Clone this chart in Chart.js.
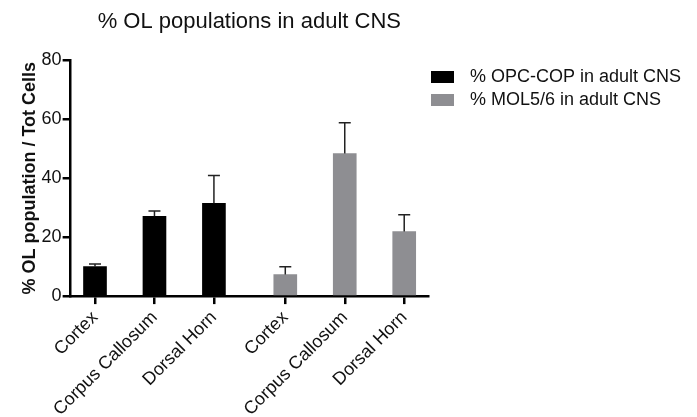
<!DOCTYPE html>
<html>
<head>
<meta charset="utf-8">
<script src="https://cdn.jsdelivr.net/npm/chart.js@4/dist/chart.umd.min.js"></script>
<style>
html,body{margin:0;padding:0;background:#fff;}
#wrap{width:697px;height:417px;position:relative;}
</style>
</head>
<body>
<div id="wrap"><canvas id="c" width="697" height="417"></canvas></div>
<script>
const categories = ['Cortex', 'Corpus Callosum', 'Dorsal Horn', 'Cortex', 'Corpus Callosum', 'Dorsal Horn'];
const positions = [0, 1, 2, 3.2, 4.2, 5.2];
const opcValues = [10.0, 27.1, 31.5];
const opcErrors = [0.9, 1.8, 9.4];
const molValues = [7.3, 48.4, 21.9];
const molErrors = [2.7, 10.4, 5.7];
const yTicks = [0, 20, 40, 60, 80];
const seriesNames = ['% OPC-COP in adult CNS', '% MOL5/6 in adult CNS'];
const seriesColors = ['#000000', '#8e8e92'];

const FONT = "'Liberation Sans', Arial, sans-serif";

const errorBars = {
  id: 'errorBars',
  afterDatasetsDraw(chart) {
    const ctx = chart.ctx;
    const ys = chart.scales.y;
    chart.data.datasets.forEach((ds, di) => {
      const meta = chart.getDatasetMeta(di);
      meta.data.forEach((bar, i) => {
        const v = ds.data[i].y;
        const e = ds.errors[i];
        const yTop = ys.getPixelForValue(v + e);
        const yBar = ys.getPixelForValue(v);
        ctx.save();
        ctx.strokeStyle = '#222';
        ctx.lineWidth = 1.5;
        ctx.beginPath();
        ctx.moveTo(bar.x, yBar);
        ctx.lineTo(bar.x, yTop);
        ctx.moveTo(bar.x - 6, yTop);
        ctx.lineTo(bar.x + 6, yTop);
        ctx.stroke();
        ctx.restore();
      });
    });
  }
};

const customLegend = {
  id: 'customLegend',
  afterDraw(chart) {
    const ctx = chart.ctx;
    ctx.save();
    ctx.font = '18px ' + FONT;
    ctx.textBaseline = 'middle';
    ctx.textAlign = 'left';
    chart.data.datasets.forEach((ds, i) => {
      const cy = 77 + i * 23;
      ctx.fillStyle = ds.backgroundColor;
      ctx.fillRect(431, cy - 6, 23, 12);
      ctx.fillStyle = '#111';
      ctx.fillText(ds.label, 470, cy);
    });
    ctx.restore();
  }
};

const toPts = (vals, offset) => vals.map((v, i) => ({ x: positions[i + offset], y: v }));

new Chart(document.getElementById('c'), {
  type: 'bar',
  data: {
    datasets: [
      { label: seriesNames[0], data: toPts(opcValues, 0), errors: opcErrors,
        backgroundColor: seriesColors[0], barThickness: 23, grouped: false },
      { label: seriesNames[1], data: toPts(molValues, 3), errors: molErrors,
        backgroundColor: seriesColors[1], barThickness: 23, grouped: false }
    ]
  },
  options: {
    responsive: false,
    animation: false,
    layout: { padding: { left: 19, right: 269, top: 0, bottom: -6 } },
    plugins: {
      legend: { display: false },
      tooltip: { enabled: false },
      title: {
        display: true,
        fullSize: false,
        text: '% OL populations in adult CNS',
        color: '#111',
        font: { family: FONT, size: 22, weight: 'normal' },
        padding: { top: 9, bottom: 25 }
      }
    },
    scales: {
      x: {
        type: 'linear',
        offset: false,
        min: -0.41,
        max: 5.6,
        afterBuildTicks: (scale) => { scale.ticks = positions.map(p => ({ value: p })); },
        ticks: {
          autoSkip: false,
          minRotation: 45,
          maxRotation: 45,
          padding: 3,
          color: '#111',
          font: { family: FONT, size: 18 },
          callback: (value, index) => categories[index]
        },
        grid: { display: true, offset: false, drawOnChartArea: false, drawTicks: true, tickLength: 8, color: '#000', lineWidth: 2.5 },
        border: { display: true, color: '#000', width: 2.5 }
      },
      y: {
        min: 0,
        max: 80,
        afterBuildTicks: (scale) => { scale.ticks = yTicks.map(v => ({ value: v })); },
        ticks: {
          padding: 1,
          color: '#111',
          font: { family: FONT, size: 18 }
        },
        grid: { display: true, drawOnChartArea: false, drawTicks: true, tickLength: 8, color: '#000', lineWidth: 2.5 },
        border: { display: true, color: '#000', width: 2.5 },
        title: {
          display: true,
          text: '% OL population / Tot Cells',
          color: '#111',
          font: { family: FONT, size: 18, weight: 'bold' },
          padding: { top: 0, bottom: 0 }
        }
      }
    }
  },
  plugins: [errorBars, customLegend]
});
</script>
</body>
</html>
